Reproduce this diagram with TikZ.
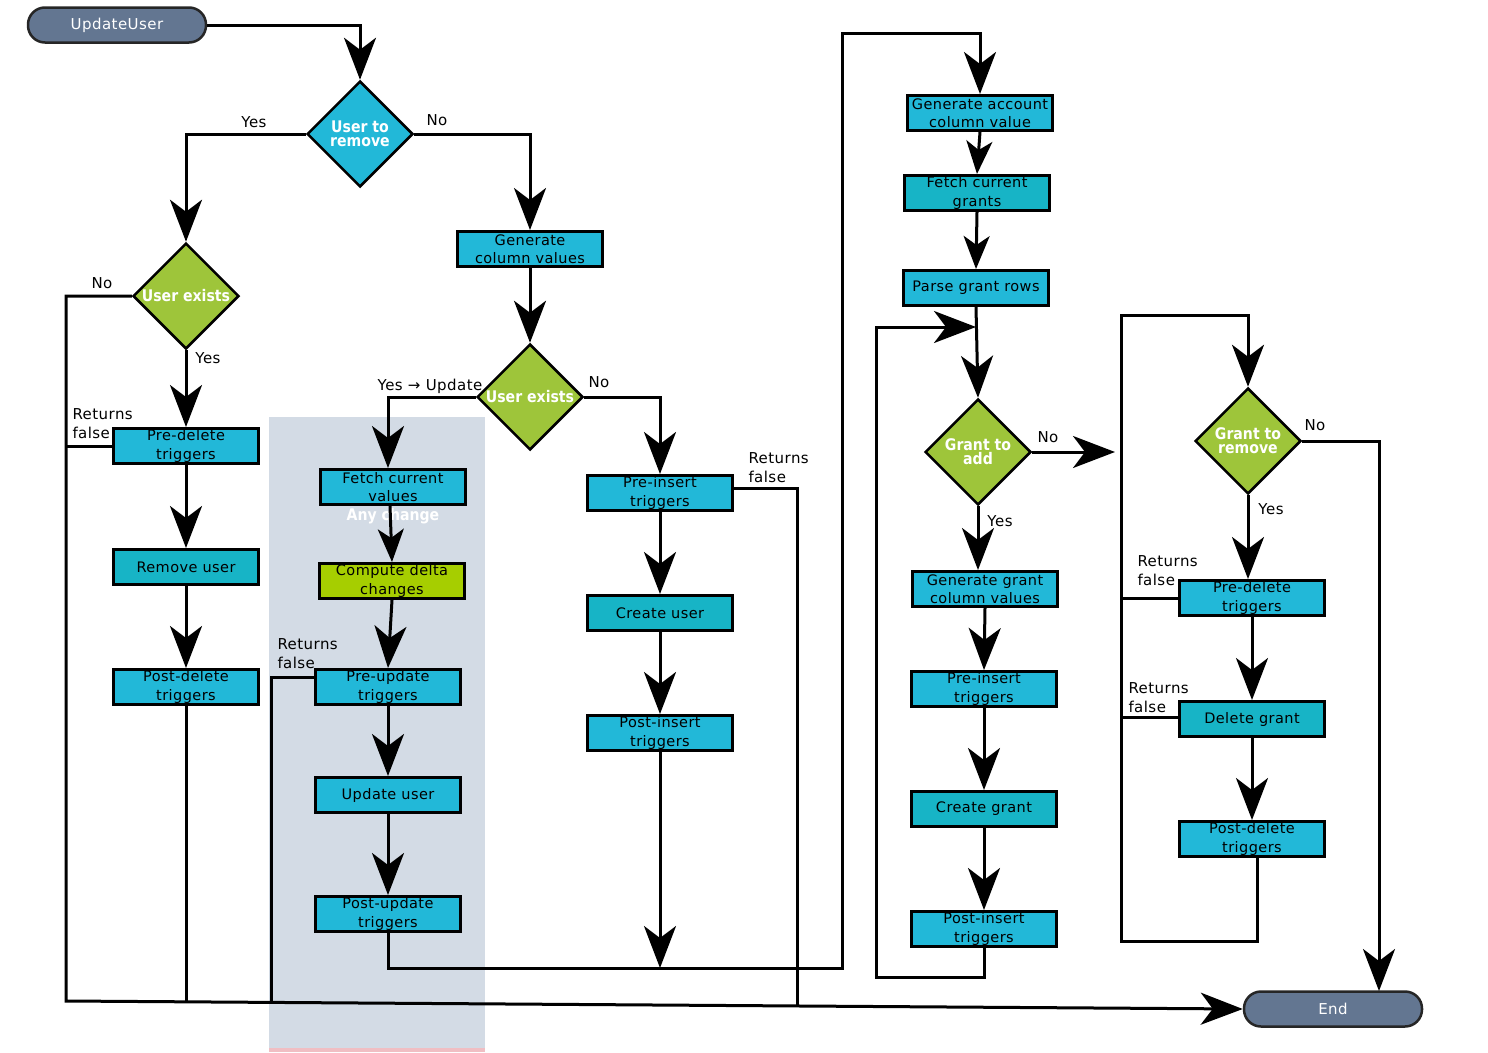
\documentclass[tikz,border=0pt]{standalone}
\usepackage{fontspec}
\setmainfont{DejaVu Sans}
\newfontfamily\boxfont[LetterSpace=3]{DejaVu Sans}
\newfontfamily\diafont[FakeStretch=0.88]{DejaVu Sans}
\usetikzlibrary{shapes.geometric,arrows.meta,calc}
\definecolor{cyanA}{RGB}{34,184,216}
\definecolor{cyanB}{RGB}{23,180,198}
\definecolor{greenD}{RGB}{158,197,58}
\definecolor{limeB}{RGB}{166,206,0}
\definecolor{slate}{RGB}{99,118,145}
\definecolor{shadeBG}{RGB}{211,219,229}
\definecolor{pinkL}{RGB}{240,190,195}
\begin{document}
\begin{tikzpicture}[x=1pt,y=-1pt,line width=3pt,
  box/.style={draw=black,line width=3pt,fill=#1,minimum width=145pt,minimum height=35pt,inner sep=0pt,align=center,font={\boxfont\fontsize{14.5}{18.5}\selectfont}},
  box/.default=cyanA,
  dia/.style={diamond,draw=black,line width=2.5pt,fill=#1,minimum width=106pt,minimum height=106pt,inner sep=0pt,aspect=1},
  dtext/.style={font={\diafont\bfseries\fontsize{16}{14}\selectfont},text=white,align=center},
  term/.style={draw=black!85,line width=2.5pt,fill=slate,rounded corners=17pt,minimum width=178pt,minimum height=35pt,inner sep=0pt,text=white,font={\boxfont\fontsize{15}{18}\selectfont}},
  lbl/.style={font={\boxfont\fontsize{15}{19}\selectfont},inner sep=0pt,align=left},
  anytext/.style={font={\diafont\bfseries\fontsize{16}{18}\selectfont},text=white,inner sep=0pt},
  arr/.style={-{Stealth[length=42pt,width=32pt,inset=12pt]}},
  arrs/.style={-{Stealth[length=33pt,width=26pt,inset=9pt]}}]
\useasboundingbox (0,0) rectangle (1488,1052);
\fill[shadeBG] (269,417) rectangle (485,1052);
\fill[pinkL] (269,1048) rectangle (485,1052);

% nodes
\node[term] (start) at (117,25) {UpdateUser};
\node[term] (stop) at (1333,1009) {End};
\node[dia=cyanA,label={[dtext]center:{User to\\remove}}] (d1) at (360,134) {};
\node[dia=greenD,label={[dtext]center:{User exists}}] (d2) at (186,296) {};
\node[box] (gcv) at (530,249) {Generate\\column values};
\node[dia=greenD,label={[dtext]center:{User exists}}] (d3) at (530,397) {};
\node[box] (pdl) at (186,446) {Pre-delete\\triggers};
\node[box=cyanB] (rmu) at (186,567) {Remove user};
\node[box] (pdd) at (186,687) {Post-delete\\triggers};
\node[box] (fcv) at (393,487) {Fetch current\\values};
\node[box=limeB] (cdc) at (392,581) {Compute delta\\changes};
\node[box] (pru) at (388,687) {Pre-update\\triggers};
\node[box] (upu) at (388,795) {Update user};
\node[box] (pou) at (388,914) {Post-update\\triggers};
\node[box] (pri) at (660,493) {Pre-insert\\triggers};
\node[box=cyanB] (cru) at (660,613) {Create user};
\node[box] (poi) at (660,733) {Post-insert\\triggers};
\node[box] (gac) at (980,113) {Generate account\\column value};
\node[box=cyanB] (fcg) at (977,193) {Fetch current\\grants};
\node[box] (pgr) at (976,288) {Parse grant rows};
\node[dia=greenD,label={[dtext]center:{Grant to\\add}}] (d4) at (978,452) {};
\node[box] (ggc) at (985,589) {Generate grant\\column values};
\node[box] (pri2) at (984,689) {Pre-insert\\triggers};
\node[box=cyanB] (crg) at (984,809) {Create grant};
\node[box] (poi2) at (984,929) {Post-insert\\triggers};
\node[dia=greenD,label={[dtext]center:{Grant to\\remove}}] (d5) at (1248,441) {};
\node[box] (pdl2) at (1252,598) {Pre-delete\\triggers};
\node[box=cyanB] (dlg) at (1252,719) {Delete grant};
\node[box] (pdd2) at (1252,839) {Post-delete\\triggers};
\node[anytext] (anyc) at (393,516) {Any change};

% helper coordinates
\coordinate (bl) at (66,1001);
\coordinate (h968) at (0,968);
\coordinate (tr) at (842,33);
\coordinate (c2) at (876,977);
\coordinate (j1) at (976,327);
\coordinate (j2) at (1115,452);
\coordinate (j3) at (1379,991);
\coordinate (rl) at (1121,941);
\coordinate (rt) at (1121,315);

% connectors
\draw[arr] (start.east) -| (d1.north);
\draw[arr] (d1.west) -| (d2.north);
\draw[arr] (d1.east) -| (gcv.north);
\draw[arr] (d2.south) -- (pdl.north);
\draw[arr] (d2.west) -| (bl) -- (stop.west);
\draw (pdl.west) -- (pdl.west -| bl);
\draw[arr] (pdl.south) -- (rmu.north);
\draw[arr] (rmu.south) -- (pdd.north);
\draw (pdd.south) -- ($(pdd.south |- bl)+(0,1)$);
\draw[arr] (gcv.south) -- (d3.north);
\draw[arr] (d3.west) -| ($(fcv.north)+(-5,0)$);
\draw[arr] (d3.east) -| (pri.north);
\draw[arrs] ($(fcv.south)+(-3,0)$) -- (cdc.north);
\draw[arr] (cdc.south) -- (pru.north);
\draw[arr] (pru.south) -- (upu.north);
\draw[arr] (upu.south) -- (pou.north);
\draw ($(pru.west)+(0,-10)$) -| ($(bl)+(205,2)$);
\draw[arr] (pou.south) |- (tr |- h968) -- (tr) -| (gac.north);
\draw[arr] (pri.south) -- (cru.north);
\draw[arr] (cru.south) -- (poi.north);
\draw[arr] (poi.south) -- (poi.south |- h968);
\draw ($(pri.east)+(0,-5)$) -| ($(bl)+(731,6)$);
\draw[arrs] (gac.south) -- (fcg.north);
\draw[arrs] (fcg.south) -- (pgr.north);
\draw[arr] (pgr.south) -- (d4.north);
\draw[arr] (poi2.south) |- (c2) |- (j1);
\draw[arr] (d4.east) -- (j2);
\draw[arr] (d4.south) -- (d4.south |- ggc.north);
\draw[arr] (ggc.south) -- (pri2.north);
\draw[arr] (pri2.south) -- (crg.north);
\draw[arr] (crg.south) -- (poi2.north);
\draw[arr] (d5.east) -| (j3);
\draw[arr] (d5.south) -- (d5.south |- pdl2.north);
\draw[arr] (pdl2.south) -- (dlg.north);
\draw[arr] (dlg.south) -- (pdd2.north);
\draw[arr] ($(pdd2.south)+(5,0)$) |- (rl) -- (rt) -| (d5.north);
\draw (pdl2.west) -- (pdl2.west -| rl);
\draw ($(dlg.west)+(0,-2)$) -- ($(dlg.west -| rl)+(0,-2)$);

% labels
\node[lbl] (ly1) at (254,122) {Yes};
\node[lbl] (ln1) at (437,120) {No};
\node[lbl] (ln2) at (102,283) {No};
\node[lbl] (ly2) at (208,358) {Yes};
\node[lbl] (ly3) at (430,386) {Yes → Update};
\node[lbl] (ln3) at (599,382) {No};
\node[lbl] (ln4) at (1048,437) {No};
\node[lbl] (ly4) at (1000,521) {Yes};
\node[lbl] (ln5) at (1315,425) {No};
\node[lbl] (ly5) at (1271,509) {Yes};
\node[lbl,anchor=west] (rf1) at (71,424) {Returns\\false};
\node[lbl,anchor=west] (rf2) at (276,654) {Returns\\false};
\node[lbl,anchor=west] (rf3) at (747,468) {Returns\\false};
\node[lbl,anchor=west] (rf4) at (1136,571) {Returns\\false};
\node[lbl,anchor=west] (rf5) at (1127,698) {Returns\\false};
\end{tikzpicture}
\end{document}
